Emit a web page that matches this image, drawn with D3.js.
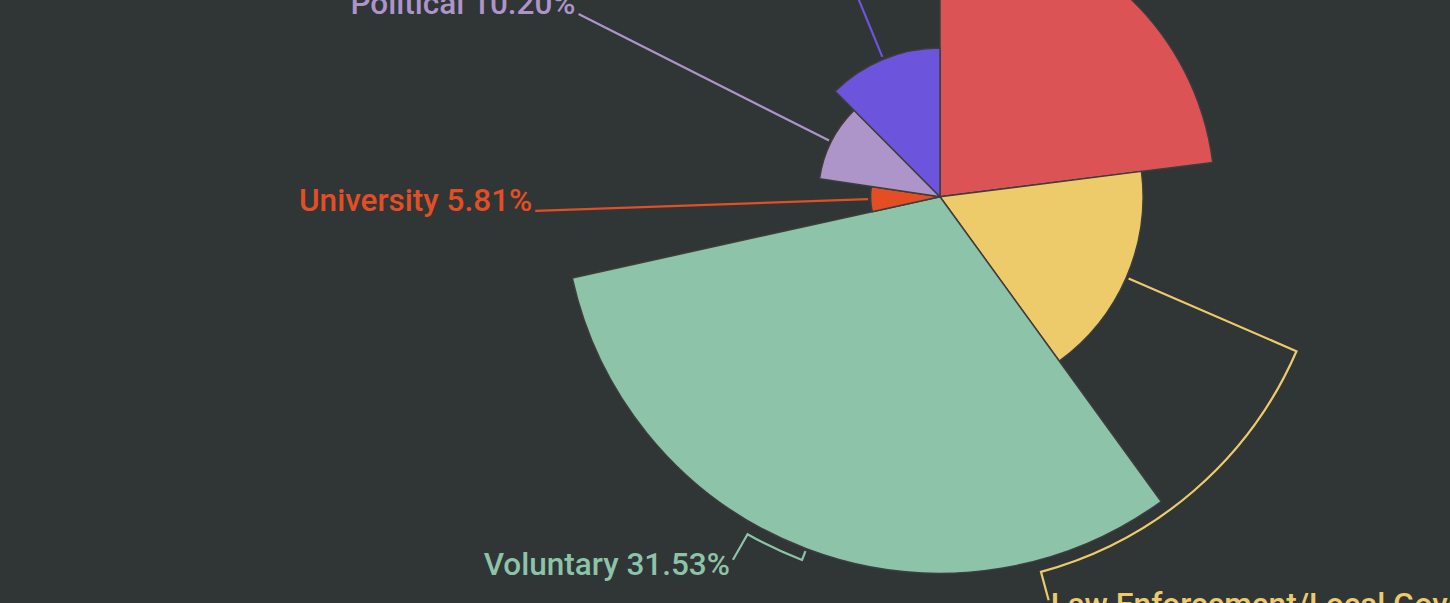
<!DOCTYPE html>
<html>
<head>
<meta charset="utf-8">
<script src="https://cdn.jsdelivr.net/npm/d3@7"></script>
<style>
  html, body { margin: 0; padding: 0; background: #303536; overflow: hidden; }
  svg { display: block; }
  text { font-family: Roboto, "Noto Sans", sans-serif; font-size: 31.5px; font-weight: 500; }
</style>
</head>
<body>
<svg class="parchment"></svg>
<script>
// share of groups, clockwise from 12 o'clock
var categories = ["Commercial", "Law Enforcement/Local Government", "Voluntary", "University", "Political", "Health"]
var shares = [23.01, 17.00, 31.53, 5.81, 10.20, 12.45]
var colors = ["#dc5355", "#eecb6a", "#8dc3a8", "#e44e24", "#ad94c9", "#6c55dc"]

// some labels get pulled round the rim so they stay in view (degrees)
var labelShift = {"Law Enforcement/Local Government": 51.5, "Voluntary": 8.9}

var W = 1450, H = 603
var cx = 940, cy = 196.7
var maxR = 376.6
var bracketR = 388.5, labelR = 418, plainR = 405

var svg = d3.select("svg").attr("width", W).attr("height", H)
svg.append("rect").attr("width", W).attr("height", H).attr("fill", "#303536")

var rows = categories.map(function(c, i) {
  return {name: c, share: shares[i], color: colors[i]}
})

var pie = d3.pie().sort(null).value(function(d) { return d.share })
var rScale = d3.scaleLinear().domain([0, d3.max(shares)]).range([0, maxR])
var arc = d3.arc().innerRadius(0).outerRadius(function(d) { return rScale(d.data.share) })

var g = svg.append("g").attr("transform", "translate(" + cx + "," + cy + ")")
var arcs = pie(rows)

g.selectAll("path.slice")
  .data(arcs)
  .enter().append("path")
  .attr("class", "slice")
  .attr("d", arc)
  .attr("fill", function(d) { return d.data.color })
  .attr("stroke", "#3d3d3d")
  .attr("stroke-width", 1.5)
  .attr("stroke-linejoin", "round")

function pt(r, a) { return [r * Math.sin(a), -r * Math.cos(a)] }

arcs.forEach(function(d) {
  var mid = (d.startAngle + d.endAngle) / 2
  var r0 = rScale(d.data.share) + 2.5
  var shift = labelShift[d.data.name]
  var path = d3.path(), end, dy
  var s = pt(r0, mid)
  path.moveTo(s[0], s[1])
  if (shift) {
    var a2 = mid + shift * Math.PI / 180
    var b = pt(bracketR, mid)
    path.lineTo(b[0], b[1])
    path.arc(0, 0, bracketR, mid - Math.PI / 2, a2 - Math.PI / 2, a2 < mid)
    end = pt(labelR, a2)
    path.lineTo(end[0], end[1])
    dy = "0.47em"
  } else {
    end = pt(plainR, mid)
    path.lineTo(end[0], end[1])
    dy = "0em"
  }
  g.append("path")
    .attr("d", path.toString())
    .attr("fill", "none")
    .attr("stroke", d.data.color)
    .attr("stroke-width", 2.2)

  var left = end[0] < 0
  g.append("text")
    .attr("x", end[0] + (left ? -3 : 2))
    .attr("y", end[1])
    .attr("dy", dy)
    .attr("text-anchor", left ? "end" : "start")
    .attr("fill", d.data.color)
    .text(d.data.name + " " + d.data.share.toFixed(2) + "%")
})
</script>
</body>
</html>
